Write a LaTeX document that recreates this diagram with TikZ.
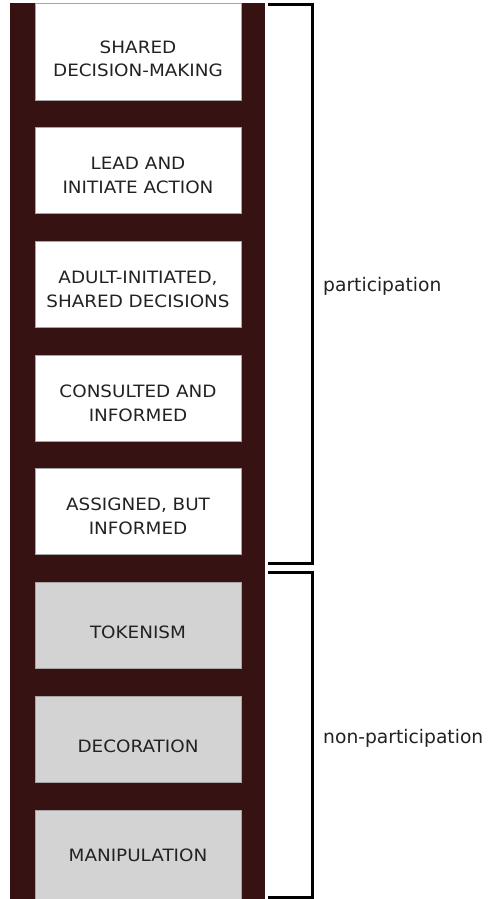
\documentclass[tikz,border=0pt]{standalone}
\usepackage{fontspec}
\setmainfont{DejaVu Sans}
\newfontfamily\boxfont[FakeStretch=1.08]{DejaVu Sans}
\definecolor{ladder}{HTML}{361212}
\definecolor{paleg}{HTML}{D3D3D3}
\definecolor{txt}{HTML}{222222}
\begin{document}
\begin{tikzpicture}[x=1pt,y=-1pt,
  rung/.style={draw=gray!70,line width=0.8pt,minimum width=206pt,minimum height=86pt,inner sep=0pt},
  partbox/.style={rung,fill=white},
  nonbox/.style={rung,fill=paleg},
  rtext/.style={align=center,font=\boxfont\fontsize{17}{23.5}\selectfont,text=txt,inner sep=0pt},
  brack/.style={line width=3pt,line cap=butt,line join=miter},
  lbl/.style={anchor=west,font=\fontsize{18.7}{21}\selectfont,text=txt,inner sep=0pt}]
\useasboundingbox (0,0) rectangle (487,899);
\fill[white] (0,0) rectangle (487,899);
\fill[ladder] (10,3) rectangle (265,899);
\node[partbox,minimum height=97pt] (b1) at (138,51.5) {};
\node[partbox] (b2) at (138,170) {};
\node[partbox] (b3) at (138,284) {};
\node[partbox] (b4) at (138,398) {};
\node[partbox] (b5) at (138,511) {};
\node[nonbox] (b6) at (138,625) {};
\node[nonbox] (b7) at (138,739) {};
\node[nonbox,minimum height=89pt] (b8) at (138,854.5) {};
\node[rtext] (t1) at ([yshift=-7.5pt]b1.center) {SHARED\\DECISION-MAKING};
\node[rtext] (t2) at ([yshift=-5.5pt]b2.center) {LEAD AND\\INITIATE ACTION};
\node[rtext] (t3) at ([yshift=-5.5pt]b3.center) {ADULT-INITIATED,\\SHARED DECISIONS};
\node[rtext] (t4) at ([yshift=-5.5pt]b4.center) {CONSULTED AND\\INFORMED};
\node[rtext] (t5) at ([yshift=-5.5pt]b5.center) {ASSIGNED, BUT\\INFORMED};
\node[rtext] (t6) at ([yshift=-7pt]b6.center) {TOKENISM};
\node[rtext] (t7) at ([yshift=-7pt]b7.center) {DECORATION};
\node[rtext] (t8) at ([yshift=-0.5pt]b8.center) {MANIPULATION};
\coordinate (p1) at (268,5);
\coordinate (p2) at (312,5);
\coordinate (p3) at (312,563);
\coordinate (p4) at (268,563);
\coordinate (n1) at (268,572);
\coordinate (n2) at (312,572);
\coordinate (n3) at (312,897);
\coordinate (n4) at (268,897);
\draw[brack] (p1) -- (p2) -- (p3) -- (p4);
\draw[brack] (n1) -- (n2) -- (n3) -- (n4);
\node[lbl] (lp) at (323,286) {participation};
\node[lbl] (ln) at (323,738) {non-participation};
\end{tikzpicture}
\end{document}
